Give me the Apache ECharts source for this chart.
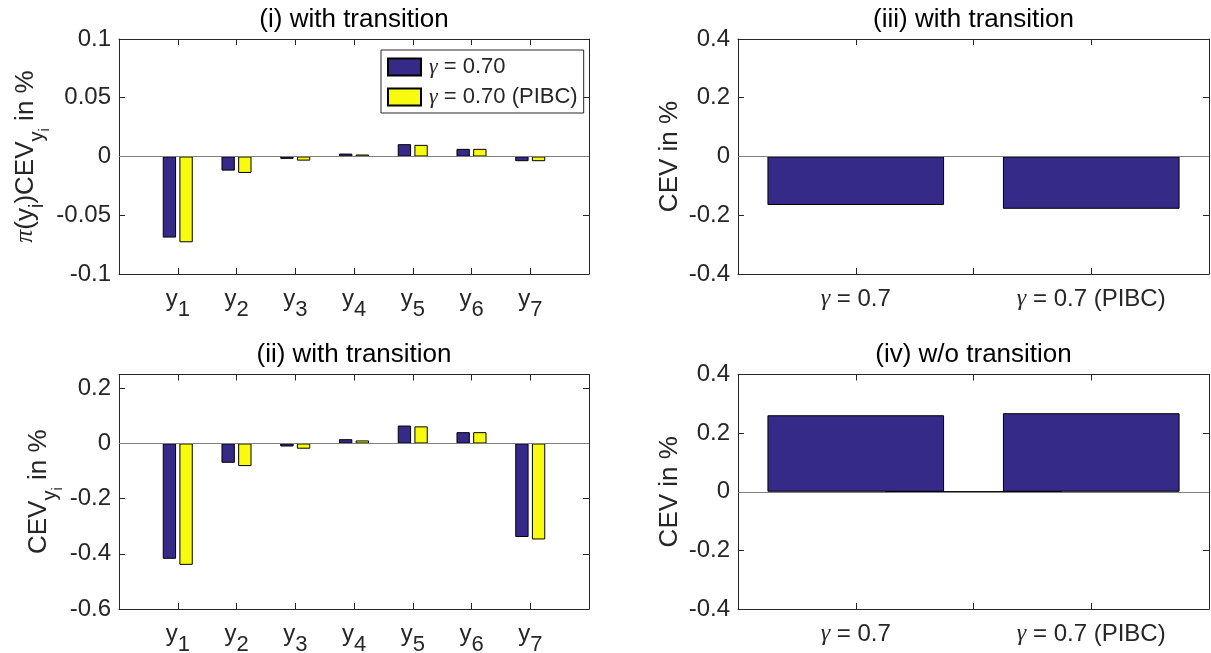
<!DOCTYPE html>
<html><head><meta charset="utf-8">
<script src="https://cdn.jsdelivr.net/npm/echarts@6/dist/echarts.min.js"></script>
<style>html,body{margin:0;padding:0;background:#fff}#c{width:1211px;height:653px}</style>
</head><body><div id="c"></div>
<script>
// ---------- data ----------
const groupSubs = ['1','2','3','4','5','6','7'];          // y_1 ... y_7
const seriesNames = ['γ = 0.70', 'γ = 0.70 (PIBC)'];
const p1Base  = [-0.069, -0.012, -0.002, 0.0025, 0.0105, 0.0065, -0.004];
const p1Pibc  = [-0.073, -0.014, -0.0035, 0.0017, 0.0099, 0.0065, -0.004];
const p2Base  = [-0.418, -0.070, -0.011, 0.0155, 0.065, 0.041, -0.339];
const p2Pibc  = [-0.440, -0.082, -0.019, 0.011, 0.062, 0.041, -0.348];
const rightCases = ['γ = 0.7', '', 'γ = 0.7 (PIBC)'];
const p3Values = [-0.165, 0, -0.178];
const p4Values = [0.261, 0, 0.268];
const titles = ['(i) with transition', '(ii) with transition', '(iii) with transition', '(iv) w/o transition'];
const yTicks1 = [-0.1, -0.05, 0, 0.05, 0.1];
const yLabels1 = ['-0.1', '-0.05', '0', '0.05', '0.1'];
const yTicks2 = [-0.6, -0.4, -0.2, 0, 0.2];
const yLabels2 = ['-0.6', '-0.4', '-0.2', '0', '0.2'];
const yTicks34 = [-0.4, -0.2, 0, 0.2, 0.4];
const yLabels34 = ['-0.4', '-0.2', '0', '0.2', '0.4'];
const yNames = [
  '{m|}{p|π}{m|(y}{s|i}{m|)CEV}{s|y}{ss|i}{m| in %}',
  '{m|CEV}{s|y}{ss|i}{m| in %}',
  '{m|CEV in %}',
  '{m|CEV in %}'
];

// ---------- style ----------
const FONT = '"Liberation Sans", Arial, sans-serif';
const SERIF = '"Liberation Serif", serif';
const INK = '#262626';
const BLUE = '#352a87', YELLOW = '#f9fb0e';
const TICK = 24, NAME = 26, TITLE = 26, LEG = 22;

const rich = {
  m:  {fontFamily: FONT, fontSize: TICK, color: INK, lineHeight: 28, verticalAlign: 'top'},
  s:  {fontFamily: FONT, fontSize: 22, color: INK, lineHeight: 22, verticalAlign: 'top', padding: [12, 0, 0, 0]},
  g:  {fontFamily: SERIF, fontStyle: 'italic', fontSize: TICK, color: INK, lineHeight: 28, verticalAlign: 'top'}
};
const nameRich = {
  m:  {fontFamily: FONT, fontSize: NAME, color: INK, lineHeight: 30, verticalAlign: 'top'},
  p:  {fontFamily: SERIF, fontStyle: 'italic', fontSize: NAME, color: INK, lineHeight: 30, verticalAlign: 'top'},
  s:  {fontFamily: FONT, fontSize: 20, color: INK, lineHeight: 20, verticalAlign: 'top', padding: [15, 0, 0, 0]},
  ss: {fontFamily: FONT, fontSize: 15, color: INK, lineHeight: 15, verticalAlign: 'top', padding: [25, 0, 0, 0]}
};

const grids = [
  {left: 119, top: 39, width: 470, height: 235, outerBoundsMode: 'none', containLabel: false},
  {left: 119, top: 374.5, width: 470, height: 234.5, outerBoundsMode: 'none', containLabel: false},
  {left: 738, top: 39, width: 471, height: 235, outerBoundsMode: 'none', containLabel: false},
  {left: 738, top: 374.5, width: 471, height: 234.5, outerBoundsMode: 'none', containLabel: false}
];

function lookup(ticks, labels, v) {
  for (let i = 0; i < ticks.length; i++) if (Math.abs(ticks[i] - v) < 1e-9) return labels[i];
  return '';
}

const xAxes = [], yAxes = [];
function line() { return {show: true, onZero: false, lineStyle: {color: INK, width: 1}}; }
function tick() { return {show: true, inside: true, length: 6, lineStyle: {color: INK, width: 1}}; }

function addX(gi, min, max, fmt) {
  xAxes.push({type: 'value', gridIndex: gi, position: 'bottom', min, max, interval: 1,
    axisLine: line(), axisTick: tick(), splitLine: {show: false},
    axisLabel: {show: true, margin: 13, formatter: fmt, rich, fontFamily: FONT, fontSize: TICK, color: INK,
      showMinLabel: true, showMaxLabel: true}});
  xAxes.push({type: 'value', gridIndex: gi, position: 'top', min, max, interval: 1,
    axisLine: line(), axisTick: tick(), splitLine: {show: false}, axisLabel: {show: false}});
}
function addY(gi, min, max, interval, ticks, labels, name, gap) {
  yAxes.push({type: 'value', gridIndex: gi, position: 'left', min, max, interval,
    axisLine: line(), axisTick: tick(), splitLine: {show: false},
    axisLabel: {margin: 8, fontFamily: FONT, fontSize: TICK, color: INK,
      formatter: v => lookup(ticks, labels, v)},
    name, nameLocation: 'middle', nameRotate: 90, nameGap: gap,
    nameTextStyle: {rich: nameRich, fontFamily: FONT, fontSize: NAME, color: INK}});
  yAxes.push({type: 'value', gridIndex: gi, position: 'right', min, max, interval,
    axisLine: line(), axisTick: tick(), splitLine: {show: false}, axisLabel: {show: false}});
}

const groupFmt = v => (v >= 1 && v <= groupSubs.length && Number.isInteger(v)) ? '{m|y}{s|' + groupSubs[v - 1] + '}' : '';
const caseFmt = v => {
  const t = (Number.isInteger(v) && v >= 1 && v <= rightCases.length) ? rightCases[v - 1] : '';
  if (!t) return '';
  return '{g|γ}{m|' + t.slice(1) + '}';
};

addX(0, 0, 8, groupFmt); addY(0, -0.1, 0.1, 0.05, yTicks1, yLabels1, yNames[0], 61);
addX(1, 0, 8, groupFmt); addY(1, -0.6, 0.25, 0.2, yTicks2, yLabels2, yNames[1], 61);
addX(2, 0, 4, caseFmt);  addY(2, -0.4, 0.4, 0.2, yTicks34, yLabels34, yNames[2], 51);
addX(3, 0, 4, caseFmt);  addY(3, -0.4, 0.4, 0.2, yTicks34, yLabels34, yNames[3], 51);

const zeroLine = {silent: true, symbol: 'none', label: {show: false},
  lineStyle: {color: '#7f7f7f', width: 1, type: 'solid'}, data: [{yAxis: 0}], animation: false};

function barSeries(name, vals, color, panel, width, withZero) {
  const s = {type: 'bar', name, xAxisIndex: 2 * panel, yAxisIndex: 2 * panel,
    data: vals.map((v, i) => [i + 1, v]), barWidth: width, barGap: '25%',
    itemStyle: {color, borderColor: '#000', borderWidth: 1}, animation: false,
    emphasis: {disabled: true}};
  if (withZero) s.markLine = zeroLine;
  return s;
}

const series = [
  barSeries(seriesNames[0], p1Base, BLUE, 0, '22.7%', true),
  barSeries(seriesNames[1], p1Pibc, YELLOW, 0, '22.7%', false),
  barSeries(seriesNames[0], p2Base, BLUE, 1, '22.7%', true),
  barSeries(seriesNames[1], p2Pibc, YELLOW, 1, '22.7%', false),
  barSeries('CEV (iii)', p3Values, BLUE, 2, '150%', true),
  barSeries('CEV (iv)', p4Values, BLUE, 3, '150%', true)
];

const titleCenters = [354, 354, 973.5, 973.5];
const titleTops = [5, 340, 5, 340];

const chart = echarts.init(document.getElementById('c'), null, {renderer: 'canvas'});
chart.setOption({
  backgroundColor: '#fff',
  animation: false,
  title: titles.map((t, i) => ({text: t, left: titleCenters[i], top: titleTops[i], textAlign: 'center', padding: 0,
    textStyle: {fontFamily: FONT, fontSize: TITLE, fontWeight: 'normal', color: '#000', lineHeight: 30}})),
  legend: {data: seriesNames, orient: 'vertical', left: 381, top: 50, padding: [6, 6, 5, 6], itemGap: 8,
    itemWidth: 33, itemHeight: 17, icon: 'rect', backgroundColor: '#fff', borderColor: INK, borderWidth: 1,
    borderRadius: 0, selectedMode: false,
    textStyle: {fontFamily: FONT, fontSize: LEG, color: INK, padding: [0, 0, 0, 3],
      rich: {g: {fontFamily: SERIF, fontStyle: 'italic', fontSize: LEG, color: INK}}},
    formatter: n => '{g|γ}' + n.slice(1)},
  grid: grids,
  xAxis: xAxes,
  yAxis: yAxes,
  series
});
</script></body></html>
